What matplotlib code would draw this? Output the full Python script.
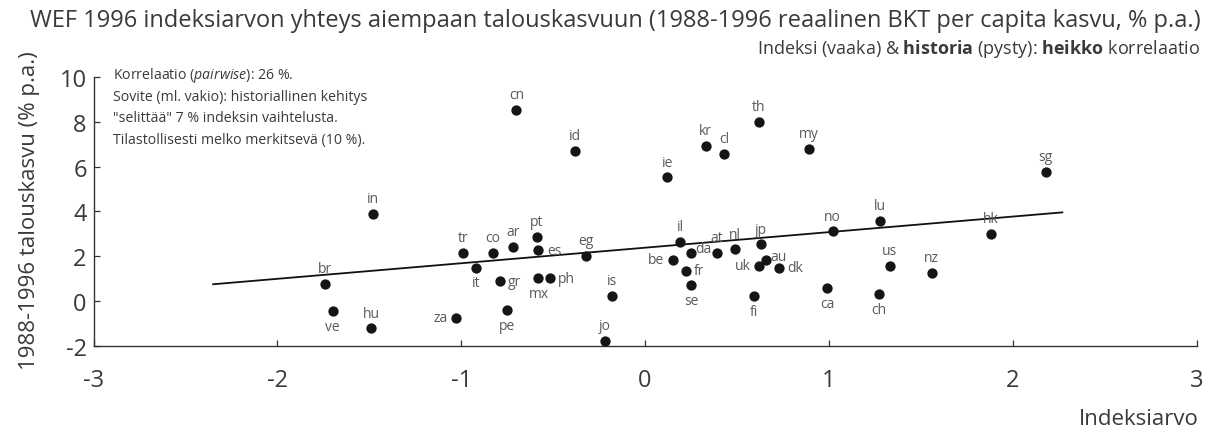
import numpy as np
import matplotlib.pyplot as plt

plt.rcParams['font.family'] = ['Open Sans', 'DejaVu Sans']
plt.rcParams['mathtext.fontset'] = 'custom'
plt.rcParams['mathtext.rm'] = 'Open Sans'
plt.rcParams['mathtext.it'] = 'Open Sans:italic'
plt.rcParams['mathtext.bf'] = 'Open Sans:bold'

# country codes, WEF 1996 index value (x) and 1988-1996 growth (y)
countries = ['cn', 'id', 'ie', 'kr', 'cl', 'th', 'my', 'sg', 'in', 'br',
             've', 'hu', 'za', 'tr', 'it', 'co', 'ar', 'gr', 'pe', 'pt',
             'es', 'mx', 'ph', 'eg', 'is', 'jo', 'be', 'il', 'da', 'fr',
             'se', 'at', 'nl', 'jp', 'uk', 'au', 'dk', 'fi', 'no', 'ca',
             'lu', 'us', 'ch', 'nz', 'hk']
index_value = [-0.70, -0.38, 0.12, 0.33, 0.43, 0.62, 0.89, 2.18, -1.48, -1.74,
               -1.70, -1.49, -1.03, -0.99, -0.92, -0.83, -0.72, -0.79, -0.75, -0.59,
               -0.58, -0.58, -0.52, -0.32, -0.18, -0.22, 0.15, 0.19, 0.25, 0.22,
               0.25, 0.39, 0.49, 0.63, 0.62, 0.66, 0.73, 0.59, 1.02, 0.99,
               1.28, 1.33, 1.27, 1.56, 1.88]
growth = [8.51, 6.68, 5.52, 6.91, 6.56, 7.98, 6.80, 5.75, 3.88, 0.76,
          -0.42, -1.20, -0.73, 2.14, 1.50, 2.16, 2.41, 0.89, -0.39, 2.87,
          2.28, 1.03, 1.03, 2.04, 0.24, -1.75, 1.84, 2.63, 2.17, 1.37,
          0.71, 2.17, 2.31, 2.53, 1.59, 1.82, 1.50, 0.24, 3.11, 0.58,
          3.57, 1.59, 0.33, 1.25, 2.99]

# fitted line as drawn in the original
trend_x = [-2.35, 2.27]
trend_y = [0.76, 3.96]

x_ticks = [-3, -2, -1, 0, 1, 2, 3]
y_ticks = [-2, 0, 2, 4, 6, 8, 10]

# where each label sits relative to its dot
label_side = {'ve': 'below', 'it': 'below', 'pe': 'below', 'mx': 'below',
              'se': 'below', 'fi': 'below', 'ca': 'below', 'ch': 'below',
              'za': 'left', 'be': 'left', 'uk': 'left',
              'gr': 'right', 'es': 'right', 'ph': 'right', 'fr': 'right',
              'dk': 'right', 'da': 'upright', 'au': 'upright'}
offsets = {'above': (0, 11, 'center', 'center'),
           'below': (0, -11, 'center', 'center'),
           'left': (-6, 0, 'right', 'center'),
           'right': (6, 0, 'left', 'center'),
           'upright': (3, 3, 'left', 'center')}

text_col = '#3a3a3a'
label_col = '#5a5a5a'

fig = plt.figure(figsize=(12.16, 4.39), dpi=100)
ax = fig.add_axes([0.077, 0.209, 0.907, 0.614])

ax.plot(trend_x, trend_y, color='#111111', lw=1.3, zorder=2)
ax.scatter(index_value, growth, s=55, color='#151515', zorder=3, linewidths=0)

for c, xv, yv in zip(countries, index_value, growth):
    dx, dy, ha, va = offsets[label_side.get(c, 'above')]
    ax.annotate(c, (xv, yv), xytext=(dx, dy), textcoords='offset points',
                ha=ha, va=va, fontsize=10, color=label_col)

ax.set_xlim(-3, 3)
ax.set_ylim(-2, 10)
ax.set_xticks(x_ticks)
ax.set_yticks(y_ticks)
ax.set_xticklabels([str(v) for v in x_ticks])
ax.set_yticklabels([str(v) for v in y_ticks])
ax.tick_params(axis='both', direction='in', length=4, width=0.9,
               colors='#333333', labelsize=17, labelcolor=text_col)
ax.tick_params(axis='x', pad=16)
ax.tick_params(axis='y', pad=5)
for s in ['top', 'right']:
    ax.spines[s].set_visible(False)
for s in ['left', 'bottom']:
    ax.spines[s].set_color('#333333')
    ax.spines[s].set_linewidth(1.0)

fig.text(0.025, 0.953, 'WEF 1996 indeksiarvon yhteys aiempaan talouskasvuun '
         '(1988-1996 reaalinen BKT per capita kasvu, % p.a.)',
         fontsize=17, color=text_col, ha='left', va='center')
fig.text(0.987, 0.888, r'Indeksi (vaaka) & $\bf{historia}$ (pysty): $\bf{heikko}$ korrelaatio',
         fontsize=13, color=text_col, ha='right', va='center')

fig.text(0.024, 0.52, '1988-1996 talouskasvu (% p.a.)', rotation=90,
         fontsize=16, color=text_col, ha='center', va='center')
fig.text(0.986, 0.045, 'Indeksiarvo', fontsize=16, color=text_col,
         ha='right', va='center')

notes = [r'Korrelaatio ($\it{pairwise}$): 26 %.',
         'Sovite (ml. vakio): historiallinen kehitys',
         '"selittää" 7 % indeksin vaihtelusta.',
         'Tilastollisesti melko merkitsevä (10 %).']
for i, line in enumerate(notes):
    fig.text(0.093, 0.828 - i * 0.049, line, fontsize=10.2, color=text_col,
             ha='left', va='center')

fig.savefig('out.png', dpi=100, facecolor='white')
